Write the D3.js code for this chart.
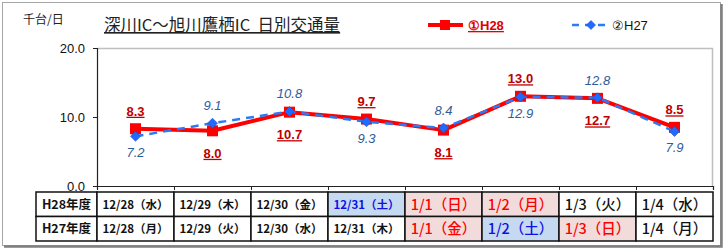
<!DOCTYPE html>
<html>
<head>
<meta charset="utf-8">
<script src="https://cdn.jsdelivr.net/npm/d3@7"></script>
<style>
	body { margin: 0; background: #fff; }
	svg { display: block; }
	text { font-family: "Liberation Sans", Arial, sans-serif; }
	.jp { font-family: "Noto Sans CJK JP", sans-serif; }
</style>
</head>
<body>
<div id="container"></div>
<script>
	const width = 726, height = 252;

	// data
	const h28 = [8.3, 8.0, 10.7, 9.7, 8.1, 13.0, 12.7, 8.5];
	const h27 = [7.2, 9.1, 10.8, 9.3, 8.4, 12.9, 12.8, 7.9];
	const h28Side = ["up", "down", "down", "up", "down", "up", "down", "up"];
	const h27Side = ["down", "up", "up", "down", "up", "down", "up", "down"];
	const yTicks = [0, 10, 20];
	const rowNames = ["H28年度", "H27年度"];
	const h28Days = ["12/28（水）", "12/29（木）", "12/30（金）", "12/31（土）", "1/1（日）", "1/2（月）", "1/3（火）", "1/4（水）"];
	const h27Days = ["12/28（月）", "12/29（火）", "12/30（水）", "12/31（木）", "1/1（金）", "1/2（土）", "1/3（日）", "1/4（月）"];
	const h28Type = ["", "", "", "sat", "hol", "hol", "", ""];
	const h27Type = ["", "", "", "", "hol", "sat", "hol", ""];

	const plot = {left: 97, right: 713, top: 48, bottom: 186};

	const svg = d3.select("#container").append("svg").attr("width", width).attr("height", height);

	// outer frame with shadow
	svg.append("rect").attr("x", 2.5).attr("y", 2.5).attr("width", 718).attr("height", 243)
		.attr("fill", "#fff").attr("stroke", "#a6a6a6").attr("stroke-width", 1);
	svg.append("path").attr("d", "M721.5,4 V246.5 H4").attr("fill", "none")
		.attr("stroke", "#7f7f7f").attr("stroke-width", 2.5);

	const x = d3.scaleBand().domain(d3.range(h28.length)).range([plot.left, plot.right]);
	const cx = i => x(i) + x.bandwidth() / 2;
	const y = d3.scaleLinear().domain([0, 20]).range([plot.bottom, plot.top]);

	// plot frame: light top/right
	svg.append("path").attr("d", `M${plot.left},${plot.top + 0.5} H${plot.right - 0.5} V${plot.bottom}`)
		.attr("fill", "none").attr("stroke", "#bfbfbf").attr("stroke-width", 1.5);

	// y axis
	const yAxis = d3.axisLeft(y).tickValues(yTicks).tickFormat(d3.format(".1f")).tickSize(4).tickPadding(8);
	const gy = svg.append("g").attr("transform", `translate(${plot.left},0)`).call(yAxis);
	gy.select(".domain").attr("stroke", "#222").attr("stroke-width", 1.2);
	gy.selectAll(".tick line").attr("stroke", "#222");
	gy.selectAll(".tick text").attr("font-size", 13).attr("fill", "#111")
		.attr("font-family", "Liberation Sans, Arial, sans-serif");

	// x axis line with boundary ticks
	const xAxis = d3.axisBottom(d3.scaleLinear().domain([0, h28.length]).range([plot.left, plot.right]))
		.ticks(h28.length).tickSize(4).tickFormat("");
	const gx = svg.append("g").attr("transform", `translate(0,${plot.bottom})`).call(xAxis);
	gx.select(".domain").attr("stroke", "#222").attr("stroke-width", 1.2);
	gx.selectAll(".tick line").attr("stroke", "#222");

	// unit and title
	svg.append("text").attr("class", "jp").attr("x", 23).attr("y", 24).attr("font-size", 12)
		.attr("fill", "#222").text("千台/日");
	svg.append("text").attr("class", "jp").attr("x", 104).attr("y", 31).attr("font-size", 16.5)
		.attr("fill", "#222").attr("text-decoration", "underline").style("white-space", "pre")
		.text("深川IC～旭川鷹栖IC\u00a0\u00a0日別交通量");

	// rotated-square marker like the spreadsheet diamond
	const diamond = s => `M0,${-s} L${s},0 L0,${s} L${-s},0 Z`;

	// legend
	const lg = svg.append("g");
	lg.append("line").attr("x1", 428).attr("x2", 463).attr("y1", 25).attr("y2", 25)
		.attr("stroke", "#ff0000").attr("stroke-width", 4);
	lg.append("rect").attr("x", 440).attr("y", 20).attr("width", 10).attr("height", 10).attr("fill", "#ff0000");
	lg.append("text").attr("x", 468).attr("y", 30).attr("font-size", 13).attr("font-weight", "bold")
		.attr("fill", "#e00000").attr("text-decoration", "underline").text("①H28");
	lg.append("line").attr("x1", 572).attr("x2", 610).attr("y1", 25).attr("y2", 25)
		.attr("stroke", "#2a7bf5").attr("stroke-width", 2.5).attr("stroke-dasharray", "7,6");
	lg.append("path").attr("d", diamond(4.5)).attr("transform", "translate(591,25)")
		.attr("fill", "#1f6bff").attr("stroke", "#1a4fc4").attr("stroke-width", 0.6);
	lg.append("text").attr("x", 612).attr("y", 30).attr("font-size", 13).attr("fill", "#111").text("②H27");

	// lines
	const line = d3.line().x((d, i) => cx(i)).y(d => y(d));

	svg.append("path").datum(h28).attr("d", line).attr("fill", "none")
		.attr("stroke", "#ff0000").attr("stroke-width", 4).attr("stroke-linejoin", "round");
	svg.append("g").selectAll("rect").data(h28).join("rect")
		.attr("x", (d, i) => cx(i) - 5.5).attr("y", d => y(d) - 5.5)
		.attr("width", 11).attr("height", 11).attr("fill", "#ff0000");

	svg.append("path").datum(h27).attr("d", line).attr("fill", "none")
		.attr("stroke", "#2a7bf5").attr("stroke-width", 2.5).attr("stroke-dasharray", "8,6");
	svg.append("g").selectAll("path").data(h27).join("path")
		.attr("d", diamond(5))
		.attr("transform", (d, i) => `translate(${cx(i)},${y(d)})`)
		.attr("fill", "#1f6bff").attr("stroke", "#1a4fc4").attr("stroke-width", 0.6);

	// value labels
	svg.append("g").selectAll("text").data(h28).join("text")
		.attr("x", (d, i) => cx(i)).attr("y", (d, i) => y(d) + (h28Side[i] === "up" ? -13 : 27))
		.attr("text-anchor", "middle").attr("font-size", 13).attr("font-weight", "bold")
		.attr("fill", "#c00000").attr("text-decoration", "underline").text(d => d.toFixed(1));
	svg.append("g").selectAll("text").data(h27).join("text")
		.attr("x", (d, i) => cx(i)).attr("y", (d, i) => y(d) + (h27Side[i] === "up" ? -13 : 21))
		.attr("text-anchor", "middle").attr("font-size", 13).attr("font-style", "italic")
		.attr("fill", "#2e5c9a").text(d => d.toFixed(1));

	// date table
	const tableTop = 192, rowH = 24.5, headLeft = 36;
	const fills = {"": "#ffffff", sat: "#c5d9f1", hol: "#f2dcdb"};
	const inks = {"": "#111", sat: "#1010e0", hol: "#ff0000"};
	const rows = [
		{name: rowNames[0], days: h28Days, types: h28Type},
		{name: rowNames[1], days: h27Days, types: h27Type}
	];
	const tg = svg.append("g");
	rows.forEach(function(r, ri) {
		const ty = tableTop + ri * rowH;
		tg.append("rect").attr("x", headLeft).attr("y", ty).attr("width", plot.left - headLeft).attr("height", rowH)
			.attr("fill", "#fff").attr("stroke", "#111").attr("stroke-width", 1.5);
		tg.append("text").attr("class", "jp").attr("x", (headLeft + plot.left) / 2).attr("y", ty + rowH / 2 + 4.5)
			.attr("text-anchor", "middle").attr("font-size", 12.5).attr("font-weight", "bold")
			.attr("fill", "#111").text(r.name);
		r.days.forEach(function(dstr, i) {
			const t = r.types[i];
			tg.append("rect").attr("x", x(i)).attr("y", ty).attr("width", x.bandwidth()).attr("height", rowH)
				.attr("fill", fills[t]).attr("stroke", "#111").attr("stroke-width", 1.5);
			const big = dstr.startsWith("1/");
			tg.append("text").attr("class", "jp").attr("x", cx(i)).attr("y", ty + rowH / 2 + (big ? 5.5 : 4.5))
				.attr("text-anchor", "middle").attr("font-size", big ? 14.5 : 11.5)
				.attr("font-weight", big ? 500 : "bold").attr("fill", inks[t]).text(dstr);
		});
	});
</script>
</body>
</html>
